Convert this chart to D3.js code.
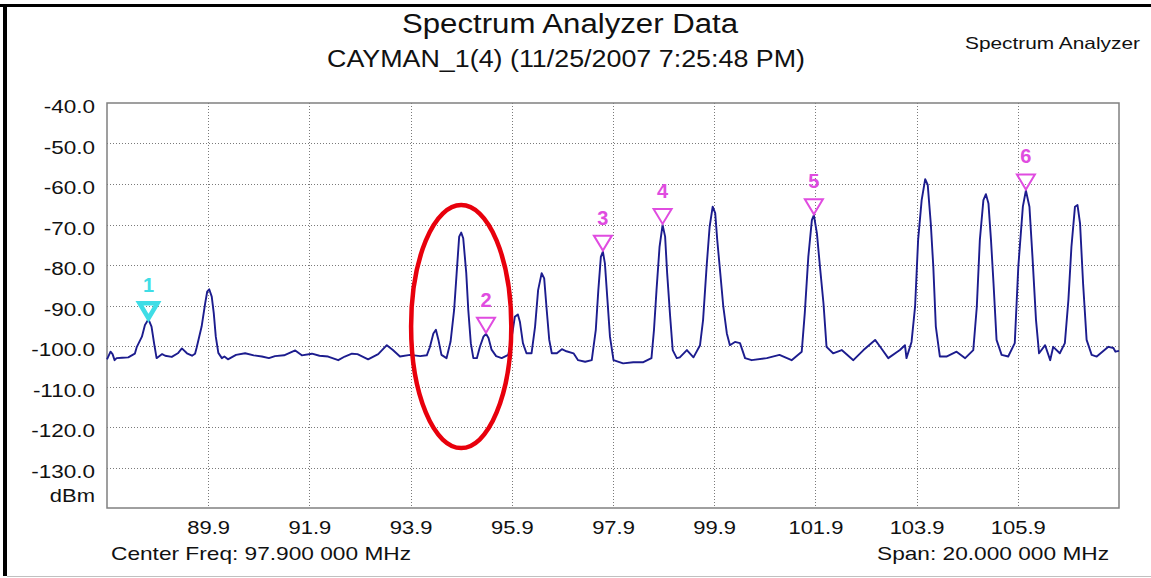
<!DOCTYPE html>
<html>
<head>
<meta charset="utf-8">
<title>Spectrum Analyzer Data</title>
<script src="https://cdnjs.cloudflare.com/ajax/libs/d3/7.8.5/d3.min.js"></script>
<style>
  body{margin:0;background:#fff;}
  svg{display:block;font-family:"Liberation Sans",Arial,sans-serif;}
</style>
</head>
<body>
<div class="canvas"></div>
<script>
// trace, [MHz, dBm]
const trace=[
 [87.90,-103.3],[87.97,-101.4],[88.01,-102.0],[88.05,-103.5],[88.09,-103.0],[88.20,-102.9],[88.32,-102.8],[88.45,-101.9],
 [88.49,-100.2],[88.59,-97.7],[88.65,-94.8],[88.72,-93.4],[88.78,-95.2],[88.83,-99.3],[88.88,-103.0],[88.99,-102.0],
 [89.05,-102.4],[89.18,-102.7],[89.30,-101.8],[89.38,-100.6],[89.48,-101.8],[89.58,-102.4],[89.64,-101.9],[89.67,-100.5],
 [89.77,-95.2],[89.84,-89.5],[89.88,-86.6],[89.92,-86.0],[89.97,-87.8],[90.01,-91.9],[90.05,-97.7],[90.10,-101.7],
 [90.17,-103.0],[90.22,-102.6],[90.29,-103.3],[90.45,-102.2],[90.63,-101.8],[90.80,-102.3],[90.96,-102.6],[91.10,-103.0],
 [91.22,-102.5],[91.40,-102.3],[91.62,-101.1],[91.75,-102.3],[91.95,-101.9],[92.10,-102.4],[92.27,-102.6],[92.47,-103.5],
 [92.60,-102.6],[92.74,-101.9],[92.85,-102.0],[93.06,-103.3],[93.26,-102.0],[93.43,-99.8],[93.55,-101.0],[93.69,-102.6],
 [93.89,-102.2],[94.09,-102.5],[94.22,-102.3],[94.28,-100.3],[94.35,-96.9],[94.40,-96.0],[94.45,-98.5],[94.51,-102.2],
 [94.61,-103.0],[94.69,-98.9],[94.76,-91.1],[94.81,-82.0],[94.86,-73.0],[94.90,-72.0],[94.94,-73.4],[95.00,-82.0],
 [95.04,-91.1],[95.09,-99.3],[95.14,-103.0],[95.21,-103.0],[95.27,-100.2],[95.34,-97.7],[95.39,-97.0],[95.44,-98.0],
 [95.50,-100.9],[95.59,-102.5],[95.70,-103.0],[95.83,-102.2],[95.90,-97.7],[95.96,-92.8],[96.02,-92.2],[96.06,-94.0],
 [96.12,-99.3],[96.19,-101.8],[96.29,-101.8],[96.36,-95.2],[96.42,-86.2],[96.49,-82.0],[96.54,-83.3],[96.59,-91.1],
 [96.64,-98.5],[96.69,-101.8],[96.79,-101.8],[96.89,-100.8],[96.98,-101.3],[97.12,-101.8],[97.21,-103.5],[97.35,-103.9],
 [97.48,-103.5],[97.56,-96.0],[97.61,-86.2],[97.66,-78.0],[97.70,-76.7],[97.74,-79.6],[97.79,-88.6],[97.84,-97.7],
 [97.91,-103.5],[98.10,-104.3],[98.30,-104.0],[98.50,-104.0],[98.66,-103.0],[98.71,-96.0],[98.76,-86.2],[98.82,-75.5],
 [98.88,-70.1],[98.93,-73.0],[98.97,-82.0],[99.03,-92.8],[99.08,-101.0],[99.16,-103.0],[99.22,-102.8],[99.36,-101.0],
 [99.49,-102.8],[99.62,-99.8],[99.68,-93.6],[99.75,-80.4],[99.81,-70.5],[99.87,-65.6],[99.92,-67.2],[99.96,-73.8],
 [100.02,-82.0],[100.08,-90.3],[100.15,-96.9],[100.21,-99.8],[100.31,-99.0],[100.41,-99.3],[100.51,-103.0],[100.64,-103.5],
 [100.94,-103.0],[101.19,-102.2],[101.43,-103.5],[101.63,-101.4],[101.69,-91.9],[101.76,-78.0],[101.83,-68.9],[101.87,-67.7],
 [101.93,-72.2],[101.99,-80.4],[102.06,-89.5],[102.12,-100.2],[102.25,-101.8],[102.42,-101.0],[102.65,-103.5],[102.85,-101.0],
 [103.08,-98.5],[103.18,-100.2],[103.34,-103.0],[103.57,-101.0],[103.67,-99.8],[103.70,-103.0],[103.80,-99.0],[103.87,-90.3],
 [103.93,-73.8],[104.00,-64.0],[104.07,-58.8],[104.12,-60.2],[104.18,-69.7],[104.23,-80.4],[104.28,-95.2],[104.36,-102.6],
 [104.49,-102.6],[104.69,-101.4],[104.86,-103.0],[105.02,-101.0],[105.09,-90.3],[105.15,-73.8],[105.22,-64.0],[105.27,-62.5],
 [105.32,-64.8],[105.37,-73.8],[105.42,-84.5],[105.48,-98.5],[105.58,-102.2],[105.71,-102.6],[105.84,-99.3],[105.91,-80.4],
 [106.00,-65.6],[106.06,-61.6],[106.13,-65.6],[106.19,-78.0],[106.26,-93.6],[106.32,-101.8],[106.44,-99.8],[106.54,-103.5],
 [106.60,-100.2],[106.73,-101.8],[106.83,-99.3],[106.90,-88.6],[106.96,-75.5],[107.03,-65.6],[107.08,-65.2],[107.13,-69.7],
 [107.19,-84.5],[107.26,-98.5],[107.36,-102.2],[107.46,-102.6],[107.69,-100.2],[107.79,-100.5],[107.83,-101.4],[107.90,-101.2]
];

const yTicks=[-40,-50,-60,-70,-80,-90,-100,-110,-120,-130];
const freqTicks=[89.9,91.9,93.9,95.9,97.9,99.9,101.9,103.9,105.9];

// peak markers
const markerIds=['1','2','3','4','5','6'];
const markerFreq=[88.72,95.39,97.70,98.88,101.87,106.06];
const markerLevel=[-93.4,-97.0,-76.7,-70.1,-67.7,-61.6];

const title='Spectrum Analyzer Data';
const subtitle='CAYMAN_1(4) (11/25/2007 7:25:48 PM)';
const instrument='Spectrum Analyzer';
const centerText='Center Freq: 97.900 000 MHz';
const spanText='Span: 20.000 000 MHz';
const unit='dBm';

const svg=d3.select('.canvas')
      .append('svg')
        .attr('width',1151)
        .attr('height',578);

const margin={top:103,right:32,bottom:70,left:107};
const graphWidth=1151-margin.left-margin.right;
const graphHeight=578-margin.top-margin.bottom;

// the old screenshot frame
svg.append('rect').attr('x',0).attr('y',4).attr('width',1151).attr('height',3).attr('fill','#000');
svg.append('rect').attr('x',3).attr('y',4).attr('width',4).attr('height',572).attr('fill','#000');
svg.append('line').attr('x1',7).attr('x2',1151).attr('y1',576.5).attr('y2',576.5).attr('stroke','#c0c0c0');

// widen text like the stretched screenshot does
const stretch=(sel,k)=>{
  sel.each(function(){
    const len=this.getComputedTextLength();
    d3.select(this).attr('textLength',len*k).attr('lengthAdjust','spacingAndGlyphs');
  });
};
const fit=(sel,w)=>sel.attr('textLength',w).attr('lengthAdjust','spacingAndGlyphs');

//titles
fit(svg.append('text').attr('x',570).attr('y',33).attr('text-anchor','middle')
   .attr('font-size',27).attr('fill','#111').text(title),336);
fit(svg.append('text').attr('x',566).attr('y',67).attr('text-anchor','middle')
   .attr('font-size',23).attr('fill','#111').text(subtitle),478);
fit(svg.append('text').attr('x',965).attr('y',48.5)
   .attr('font-size',16.5).attr('fill','#111').text(instrument),175);

const graph=svg.append('g')
      .attr('transform',`translate(${margin.left},${margin.top})`);

//scales
const x=d3.scaleLinear().domain([87.9,107.9]).range([0,graphWidth]);
const y=d3.scaleLinear().domain([-140,-40]).range([graphHeight,0]);
const px=v=>Math.round(v)+0.5;

// dotted grid
graph.selectAll('.hgrid').data(yTicks.slice(1)).enter().append('line')
  .attr('x1',0).attr('x2',graphWidth)
  .attr('y1',d=>px(y(d))).attr('y2',d=>px(y(d)))
  .attr('stroke','#7a7a7a').attr('stroke-dasharray','1,2');
graph.selectAll('.vgrid').data(freqTicks).enter().append('line')
  .attr('y1',0).attr('y2',graphHeight)
  .attr('x1',d=>px(x(d))).attr('x2',d=>px(x(d)))
  .attr('stroke','#7a7a7a').attr('stroke-dasharray','1,2');

//axes
const yAxis=d3.axisLeft(y).tickValues(yTicks).tickSize(0).tickPadding(12)
  .tickFormat(d=>d.toFixed(1));
const xAxis=d3.axisBottom(x).tickValues(freqTicks).tickSize(0).tickPadding(13)
  .tickFormat(d=>d.toFixed(1));

const yAxisGroup=graph.append('g').call(yAxis);
const xAxisGroup=graph.append('g').attr('transform',`translate(0,${graphHeight})`).call(xAxis);
[yAxisGroup,xAxisGroup].forEach(g=>{
  g.select('.domain').remove();
  g.selectAll('text').attr('font-size',18).attr('fill','#111')
   .attr('font-family','"Liberation Sans",Arial,sans-serif');
});
yAxisGroup.selectAll('text').attr('dy','0.54em');
stretch(yAxisGroup.selectAll('text'),1.25);
stretch(xAxisGroup.selectAll('text'),1.22);

// unit under the last y label
stretch(svg.append('text').attr('x',95).attr('y',501.5).attr('text-anchor','end')
   .attr('font-size',18).attr('fill','#111').text(unit),1.22);

// plot border
graph.append('rect').attr('x',0).attr('y',0).attr('width',graphWidth).attr('height',graphHeight)
  .attr('fill','none').attr('stroke','#808080').attr('stroke-width',1.5);

// trace
const line=d3.line().x(d=>x(d[0])).y(d=>y(d[1]));
graph.append('path').datum(trace)
  .attr('d',line)
  .attr('fill','none')
  .attr('stroke','#1c1c8e')
  .attr('stroke-width',1.9)
  .attr('stroke-linejoin','round');

// markers
const markers=markerIds.map((id,i)=>({id,f:markerFreq[i],v:markerLevel[i]}));
const mk=graph.selectAll('.marker').data(markers).enter().append('g')
  .attr('transform',d=>`translate(${x(d.f)},${y(d.v)-1})`);
const mkColor=(d,i)=>i===0?'#3fdde6':'#e04ce0';
mk.append('path').attr('d','M-9,-15L9,-15L0,0Z')
  .attr('fill','none').attr('stroke',mkColor)
  .attr('stroke-width',(d,i)=>i===0?4.5:2).attr('stroke-linejoin','miter');
mk.append('text').attr('y',-26).attr('text-anchor','middle')
  .attr('font-size',20).attr('font-weight','bold').attr('fill',mkColor)
  .text(d=>d.id);

// red ring someone drew round the 94.9 / 95.4 pair
const ring={f:94.9,v:-95.2,df:0.99,dv:30};
graph.append('ellipse')
  .attr('cx',x(ring.f)).attr('cy',y(ring.v))
  .attr('rx',x(ring.f+ring.df)-x(ring.f))
  .attr('ry',y(ring.v-ring.dv)-y(ring.v))
  .attr('fill','none').attr('stroke','#e8000c').attr('stroke-width',4.5);

// footer texts
fit(svg.append('text').attr('x',111).attr('y',560)
   .attr('font-size',19).attr('fill','#111').text(centerText),300);
fit(svg.append('text').attr('x',1109).attr('y',560).attr('text-anchor','end')
   .attr('font-size',19).attr('fill','#111').text(spanText),232);
</script>
</body>
</html>
